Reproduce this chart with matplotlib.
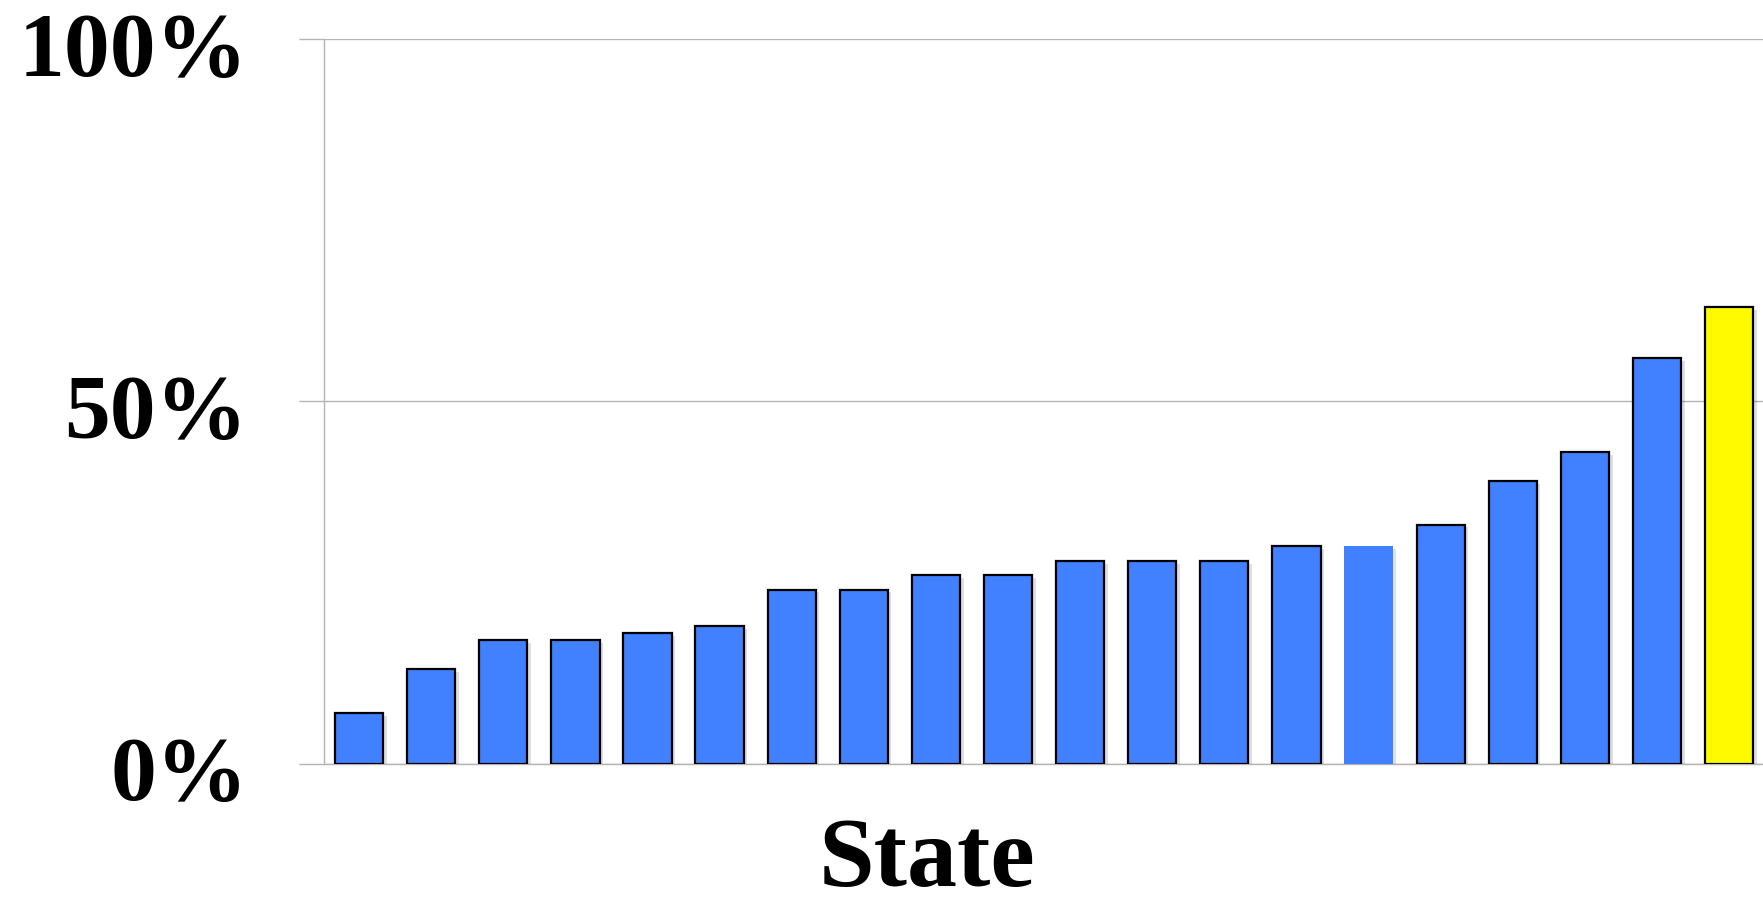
import numpy as np
import matplotlib
matplotlib.use('Agg')
import matplotlib.pyplot as plt
import matplotlib.patheffects as pe
from matplotlib import font_manager
from matplotlib.font_manager import FontProperties
from matplotlib.ticker import FuncFormatter
from matplotlib.transforms import ScaledTranslation

# Share per state (%), sorted ascending as in the original chart
pct = [7, 13, 17, 17, 18, 19, 24, 24, 26, 26,
       28, 28, 28, 30, 30, 33, 39, 43, 56, 63]
# which bar is highlighted and which one is drawn without outline
highlight_idx = 19
no_edge_idx = 14
y_ticks = [0, 50, 100]

BLUE = '#4181ff'
YELLOW = '#fffa00'
GRID = '#b4b4b4'

# Times-like bold serif: take the Liberation Serif bold file if there is one,
# else the STIX font that ships with matplotlib
bold_file = None
for f in font_manager.fontManager.ttflist:
    if f.name == 'Liberation Serif' and f.weight in (700, 'bold') \
            and f.style == 'normal':
        bold_file = f.fname
        break
if bold_file:
    label_font = FontProperties(fname=bold_file)
else:
    label_font = FontProperties(family='STIXGeneral', weight='bold')

fig = plt.figure(figsize=(17.63, 8.97), dpi=100)
ax = fig.add_axes([0.1838, 0.1488, 0.8162, 0.8074])

x = np.arange(len(pct))
colors = [YELLOW if i == highlight_idx else BLUE for i in x]
edges = ['none' if i == no_edge_idx else 'black' for i in x]

bars = ax.bar(x, pct, width=0.67, color=colors, edgecolor=edges,
              linewidth=1.6, zorder=3)
for b in bars:
    b.set_path_effects([pe.SimplePatchShadow(offset=(2.5, -2),
                                             shadow_rgbFace='#000000',
                                             alpha=0.12),
                        pe.Normal()])

ax.set_xlim(-0.485, 19.47)
ax.set_ylim(0, 100)
ax.set_yticks(y_ticks)
ax.yaxis.set_major_formatter(FuncFormatter(lambda v, _: f'{v:.0f}%'))
ax.set_xticks([])

ax.grid(axis='y', color=GRID, linewidth=1.0, zorder=0)
ax.tick_params(axis='y', length=18, width=1.0, color=GRID, pad=37)
# labels sit a little below their gridline in the original
nudge = ScaledTranslation(0, -5 / 100, fig.dpi_scale_trans)
for lbl in ax.get_yticklabels():
    lbl.set_fontproperties(label_font)
    lbl.set_fontsize(66)
    lbl.set_verticalalignment('center_baseline')
    lbl.set_transform(lbl.get_transform() + nudge)

for side in ['top', 'right']:
    ax.spines[side].set_visible(False)
ax.spines['left'].set_color(GRID)
ax.spines['left'].set_linewidth(1.0)
ax.spines['bottom'].set_color(GRID)
ax.spines['bottom'].set_linewidth(1.0)

fig.text(0.526, 0.012, 'State', ha='center', va='baseline',
         fontproperties=label_font, fontsize=72)

plt.savefig('out.png', dpi=100)
